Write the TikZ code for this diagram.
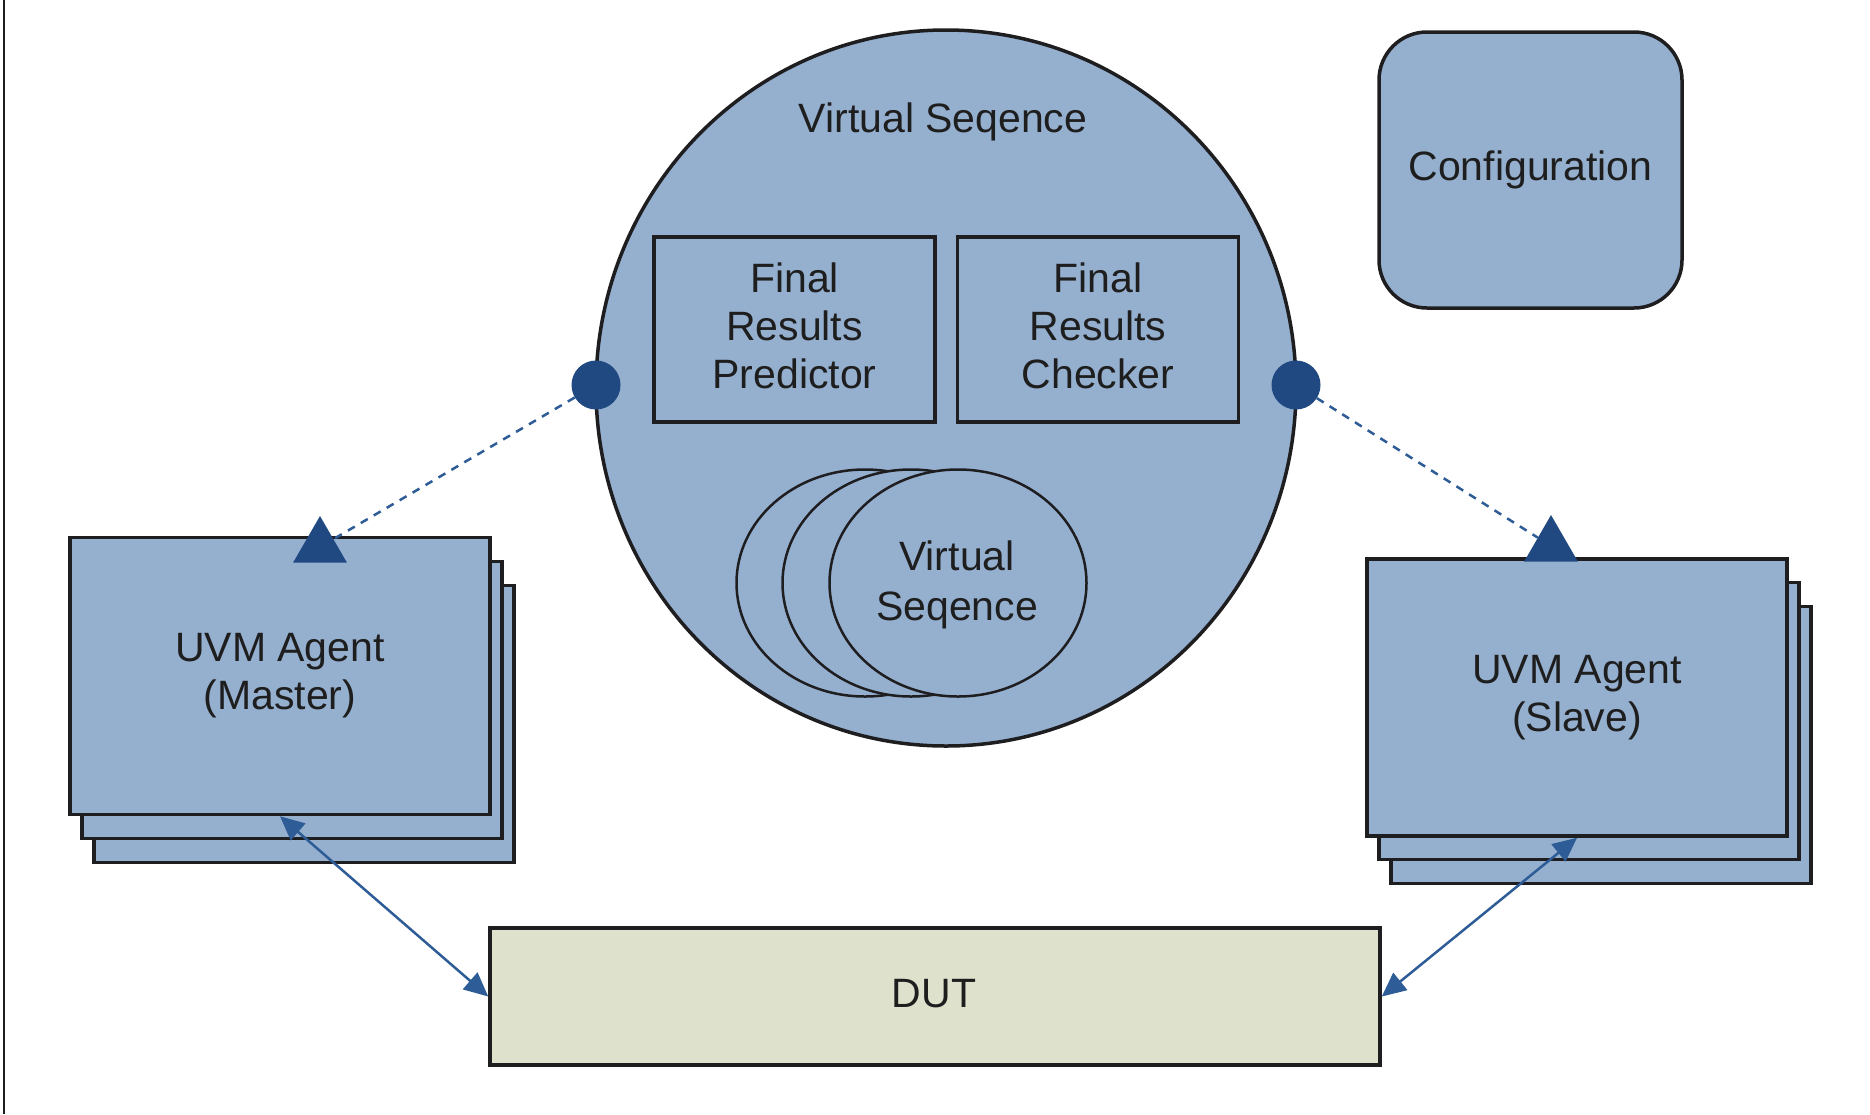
\documentclass[tikz,border=0pt]{standalone}
\usepackage{fontspec}
\setmainfont{Liberation Sans}
\usetikzlibrary{arrows.meta,shapes.geometric}

\definecolor{paneblue}{RGB}{149,175,207}
\definecolor{portblue}{RGB}{31,73,128}
\definecolor{linkblue}{RGB}{46,92,150}
\definecolor{dutfill}{RGB}{222,226,204}
\definecolor{edgegray}{RGB}{30,30,32}
\definecolor{inkgray}{RGB}{30,30,30}

\tikzset{
  txt/.style={font=\fontsize{41}{48}\selectfont, text=inkgray, align=center},
  pane/.style={draw=edgegray, line width=3.5pt, fill=paneblue},
  agentbox/.style={pane, rectangle, minimum width=420pt, minimum height=277pt, inner sep=0pt, txt},
  innerbox/.style={pane, rectangle, minimum width=281pt, minimum height=185pt, inner sep=0pt},
  seqoval/.style={pane, line width=2.5pt, ellipse, minimum width=257pt, minimum height=227pt, inner sep=0pt},
  portdot/.style={circle, fill=portblue, minimum size=49pt, inner sep=0pt},
  porttri/.style={regular polygon, regular polygon sides=3, fill=portblue, minimum size=62pt, inner sep=0pt},
  link/.style={draw=linkblue, line width=2.5pt},
  dashlink/.style={link, dash pattern=on 8pt off 7pt},
  duplex/.style={link, {Triangle[length=24pt,width=22pt]}-{Triangle[length=24pt,width=22pt]}},
}

\begin{document}
\begin{tikzpicture}[x=1pt,y=-1pt]
\useasboundingbox (0,0) rectangle (1870,1114);

% page border on the left
\draw[line width=2pt, draw=edgegray] (4,0) -- (4,1114);

% virtual sequence container
\node[pane, ellipse, minimum width=700pt, minimum height=716pt, inner sep=0pt] (vseq) at (946,388) {};
\node[txt] (vseqtitle) at (943,122) {Virtual Seqence};
\node[innerbox] (pred) at (794.5,329.5) {};
\node[txt] (predtext) at (794.5,326) {Final\\Results\\Predictor};
\node[innerbox] (check) at (1098,329.5) {};
\node[txt] (checktext) at (1098,326) {Final\\Results\\Checker};

% stacked sub-sequences, back to front
\node[seqoval] (sub3) at (865,583) {};
\node[seqoval] (sub2) at (911,583) {};
\node[seqoval] (sub1) at (958,583) {};
\node[txt, font=\fontsize{41}{50}\selectfont] (subtext) at (957,585) {Virtual\\Seqence};

% connection points on the container
\node[portdot] (ldot) at (596,385) {};
\node[portdot] (rdot) at (1296,385) {};

% configuration object
\node[pane, rectangle, rounded corners=48pt, minimum width=303pt, minimum height=276pt, inner sep=0pt, txt] (config) at (1530.5,170) {Configuration};

% master agent stack
\node[agentbox] (lagent3) at (304,724) {};
\node[agentbox] (lagent2) at (292,700) {};
\node[agentbox] (lagent) at (280,676) {UVM Agent\\(Master)};

% slave agent stack
\node[agentbox] (ragent3) at (1601,745) {};
\node[agentbox] (ragent2) at (1589,721) {};
\node[agentbox] (ragent) at (1577,697.5) {UVM Agent\\(Slave)};

% design under test
\node[draw=edgegray, line width=3.5pt, fill=dutfill, rectangle, minimum width=890pt, minimum height=137pt, inner sep=0pt, txt] (dut) at (935,996.5) {};
\node[txt] (duttext) at (934,994) {DUT};

% sequencer ports on the agents
\node[porttri] (lport) at (320,547) {};
\node[porttri] (rport) at (1551,546) {};

% sequencer links
\draw[dashlink] (ldot) -- (lport);
\draw[dashlink] (rdot) -- (rport);

% interface links to the DUT
\draw[duplex] (lagent.south) -- (dut.west);
\draw[duplex] (ragent.south) -- (dut.east);
\end{tikzpicture}
\end{document}
